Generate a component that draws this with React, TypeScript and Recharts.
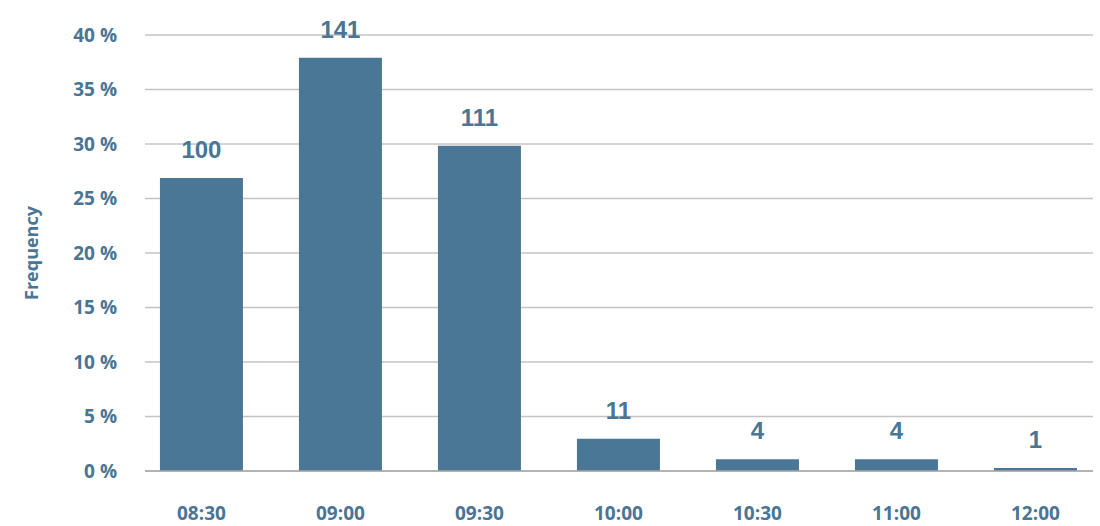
import React from "react";
import {
  BarChart,
  Bar,
  XAxis,
  YAxis,
  CartesianGrid,
  LabelList,
} from "recharts";

// Arrival times and how many people came in each half-hour slot
const times = ["08:30", "09:00", "09:30", "10:00", "10:30", "11:00", "12:00"];
const counts = [100, 141, 111, 11, 4, 4, 1];
const percentTicks = [0, 5, 10, 15, 20, 25, 30, 35, 40];

const total = counts.reduce((a, b) => a + b, 0);

const data = times.map((time, i) => ({
  idx: i,
  time,
  count: counts[i],
  pct: (counts[i] / total) * 100,
}));

const textColor = "#4a7594";
const barColor = "#497795";
const axisFont = "'Open Sans', 'DejaVu Sans', sans-serif";

export default function App() {
  return (
    <div style={{ width: 1100, height: 526, background: "#fff" }}>
      <style>{`body { margin: 0; }`}</style>
      <BarChart
        width={1100}
        height={526}
        data={data}
        margin={{ top: 35, right: 7, bottom: 0, left: 0 }}
      >
        <CartesianGrid vertical={false} stroke="#c4c4c4" strokeWidth={1.5} />
        <XAxis
          dataKey="idx"
          type="number"
          domain={[-0.406, 6.414]}
          allowDataOverflow
          ticks={[0, 1, 2, 3, 4, 5, 6]}
          tickFormatter={(v: number) => times[v] ?? ""}
          height={55}
          stroke="#a9a9a9"
          strokeWidth={1.5}
          tickLine={false}
          tickSize={0}
          tickMargin={36}
          tick={{ fill: textColor, fontSize: 19, fontWeight: 700, fontFamily: axisFont }}
        />
        <YAxis
          domain={[0, 40]}
          ticks={percentTicks}
          width={145}
          axisLine={false}
          tickLine={false}
          tickSize={0}
          tickMargin={28}
          tickFormatter={(v: number) => `${v} %`}
          tick={{ fill: textColor, fontSize: 19, fontWeight: 700, fontFamily: axisFont }}
          label={{
            value: "Frequency",
            angle: -90,
            position: "insideLeft",
            offset: 32,
            style: {
              fill: textColor,
              fontSize: 18,
              fontWeight: 700,
              fontFamily: axisFont,
              textAnchor: "middle",
            },
          }}
        />
        <Bar dataKey="pct" fill={barColor} barSize={83} isAnimationActive={false}>
          <LabelList
            dataKey="count"
            position="top"
            offset={20}
            style={{
              fill: textColor,
              fontSize: 24,
              fontWeight: 700,
              fontFamily: "'Liberation Sans', Arial, sans-serif",
            }}
          />
        </Bar>
      </BarChart>
    </div>
  );
}
